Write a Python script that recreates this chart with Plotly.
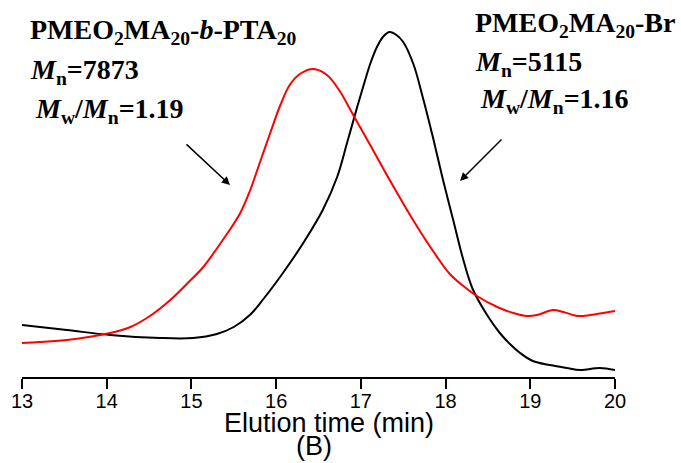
import plotly.graph_objects as go

# GPC traces: elution time (min) vs. detector response (arbitrary units)
t_br = [13.00, 13.53, 14.04, 14.63, 15.02, 15.30, 15.50, 15.69, 15.85, 16.08,
        16.32, 16.55, 16.72, 16.84, 16.96, 17.03, 17.11, 17.19, 17.27, 17.34,
        17.42, 17.50, 17.62, 17.73, 17.85, 17.97, 18.09, 18.21, 18.32, 18.49,
        18.64, 18.76, 18.88, 19.03, 19.23, 19.43, 19.59, 19.82, 20.00]
s_br = [52, 47, 42, 39, 39, 43, 50, 62, 78, 104,
        134, 167, 200, 235, 271, 291, 313, 330, 341, 345,
        342, 335, 313, 280, 240, 197, 157, 117, 88, 62,
        44, 33, 24, 16, 12, 9, 7, 9, 7]

t_pta = [13.00, 13.53, 14.04, 14.28, 14.51, 14.75, 14.98, 15.14, 15.37, 15.57,
         15.69, 15.81, 15.93, 16.05, 16.16, 16.28, 16.44, 16.60, 16.75, 16.91,
         17.11, 17.34, 17.58, 17.82, 18.05, 18.21, 18.37, 18.61, 18.80, 18.96,
         19.08, 19.27, 19.39, 19.56, 19.71, 19.86, 20.00]
s_pta = [34, 37, 44, 50, 61, 77, 96, 110, 137, 163,
         186, 215, 244, 272, 292, 303, 308, 302, 286, 262,
         232, 197, 162, 130, 103, 91, 81, 70, 64, 61,
         62, 67, 65, 61, 62, 64, 66]

x_ticks = [13, 14, 15, 16, 17, 18, 19, 20]

W, H = 681, 463
L, R, T, B = 22, 66, 20, 86
PW, PH = W - L - R, H - T - B


def px(xp):
    return (xp - L) / PW


def py(yp):
    return (H - B - yp) / PH


fig = go.Figure()
fig.add_trace(go.Scatter(x=t_br, y=s_br, mode="lines",
                         line=dict(color="#000000", width=2, shape="spline", smoothing=1),
                         showlegend=False))
fig.add_trace(go.Scatter(x=t_pta, y=s_pta, mode="lines",
                         line=dict(color="#ff0000", width=2, shape="spline", smoothing=1),
                         showlegend=False))

serif = dict(family="Liberation Serif", size=28, color="#000000")
sans = dict(family="Liberation Sans", size=27, color="#000000")

labels = [
    ("<b>PMEO<sub>2</sub>MA<sub>20</sub>-<i>b</i>-PTA<sub>20</sub></b>", 28, 31),
    ("<b><i>M</i><sub>n</sub>=7873</b>", 28, 71),
    ("<b><i>M</i><sub>w</sub>/<i>M</i><sub>n</sub>=1.19</b>", 33, 110),
    ("<b>PMEO<sub>2</sub>MA<sub>20</sub>-Br</b>", 473, 25),
    ("<b><i>M</i><sub>n</sub>=5115</b>", 473, 63),
    ("<b><i>M</i><sub>w</sub>/<i>M</i><sub>n</sub>=1.16</b>", 478, 100),
]
annotations = []
for txt, xp, yp in labels:
    annotations.append(dict(text=txt, x=px(xp), y=py(yp), xref="paper", yref="paper",
                            xanchor="left", yanchor="middle", showarrow=False,
                            font=serif))

# arrows pointing at each trace
for hx, hy, tx, ty in [(230, 185, 185, 143), (460, 181, 503, 138)]:
    annotations.append(dict(text="", x=px(hx), y=py(hy), xref="paper", yref="paper",
                            showarrow=True, ax=tx - hx, ay=ty - hy,
                            arrowhead=2, arrowsize=1.1, arrowwidth=1.5,
                            arrowcolor="#000000", standoff=0, startstandoff=0))

annotations.append(dict(text="Elution time (min)", x=px(329), y=py(423),
                        xref="paper", yref="paper", xanchor="center", yanchor="middle",
                        showarrow=False, font=sans))
annotations.append(dict(text="(B)", x=px(314), y=py(446),
                        xref="paper", yref="paper", xanchor="center", yanchor="middle",
                        showarrow=False, font=sans))

fig.update_layout(
    width=W, height=H,
    margin=dict(l=L, r=R, t=T, b=B),
    paper_bgcolor="white", plot_bgcolor="white",
    annotations=annotations,
    xaxis=dict(range=[13, 20], tickvals=x_ticks, ticks="outside", ticklen=10,
               tickwidth=2, tickcolor="#000000", showline=True, linewidth=2,
               linecolor="#000000", showgrid=False, zeroline=False,
               ticklabelstandoff=-5,
               tickfont=dict(family="Liberation Sans", size=20, color="#000000")),
    yaxis=dict(range=[0, PH], visible=False, showgrid=False, zeroline=False),
)

fig.write_html("out.html")
